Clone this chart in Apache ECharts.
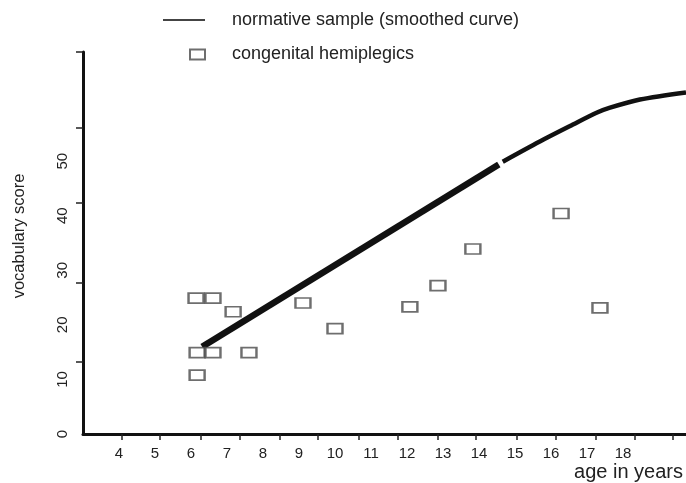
<!DOCTYPE html>
<html>
<head>
<meta charset="utf-8">
<script src="https://cdn.jsdelivr.net/npm/echarts@6/dist/echarts.min.js"></script>
<style>
html,body{margin:0;padding:0;background:#fff;}
#chart{width:686px;height:483px;}
</style>
</head>
<body>
<div id="chart"></div>
<script>
// ---- data ----
const hemiAge   = [6.14, 6.61, 7.17, 9.11, 10.0, 6.17, 6.61, 7.61, 6.17, 16.28, 13.83, 12.86, 12.08, 17.36];
const hemiScore = [24.9, 24.9, 22.4, 24.0, 19.3, 14.9, 14.9, 14.9, 10.8, 40.4, 33.9, 27.2, 23.3, 23.1];

const normAgeA   = [6.31, 14.55];
const normScoreA = [16.0, 49.4];
const normAgeB   = [14.66, 15.69, 16.61, 17.28, 17.64, 18.47, 19.75];
const normScoreB = [49.9, 53.6, 56.7, 58.9, 59.8, 61.3, 62.6];

const xLabelValues = [4, 5, 6, 7, 8, 9, 10, 11, 12, 13, 14, 15, 16, 17, 18];
const xTickValues  = [4.08, 5.14, 6.28, 7.36, 8.47, 9.53, 10.67, 11.75, 12.86, 13.92, 15.06, 16.14, 17.25, 18.33, 19.39];
const yLabelValues = [0, 10, 20, 30, 40, 50];
const yTickValues  = [13.2, 27.7, 42.4, 56.1, 70];

const normName = 'normative sample (smoothed curve)';
const hemiName = 'congenital hemiplegics';

const zip = (a, b) => a.map((v, i) => [v, b[i]]);

const FONT = '"Liberation Sans", Arial, sans-serif';
const chart = echarts.init(document.getElementById('chart'), null, {renderer: 'canvas'});

chart.setOption({
  animation: false,
  backgroundColor: '#fff',
  textStyle: {fontFamily: FONT},
  grid: {left: 83, right: 0, top: 52, bottom: 49},
  legend: [
    {
      id: 'legNorm',
      data: [{name: normName, icon: 'rect', itemStyle: {color: '#444', borderWidth: 0}}],
      left: 163, top: 11, padding: 0,
      itemWidth: 42, itemHeight: 2,
      selectedMode: false,
      textStyle: {fontSize: 18, color: '#222', fontFamily: FONT, padding: [0, 0, 0, 22]}
    },
    {
      id: 'legHemi',
      data: [{name: hemiName, icon: 'rect', itemStyle: {color: '#fff', borderColor: '#4a4a4a', borderWidth: 2}}],
      left: 189, top: 45.5, padding: 0,
      itemWidth: 15, itemHeight: 10,
      selectedMode: false,
      textStyle: {fontSize: 18, color: '#222', fontFamily: FONT, padding: [0, 0, 0, 22]}
    }
  ],
  xAxis: {
    type: 'value', min: 3, max: 19.75,
    axisLine: {show: true, onZero: false, lineStyle: {color: '#111', width: 3}},
    axisTick: {show: true, customValues: xTickValues, length: 6, lineStyle: {color: '#222', width: 1.5}},
    axisLabel: {customValues: xLabelValues, fontSize: 15, color: '#222', margin: 12, fontFamily: FONT},
    splitLine: {show: false}
  },
  yAxis: {
    type: 'value', min: 0, max: 70,
    axisLine: {show: true, onZero: false, lineStyle: {color: '#111', width: 3}},
    axisTick: {show: true, customValues: yTickValues, length: 7, lineStyle: {color: '#222', width: 1.5}},
    axisLabel: {customValues: yLabelValues, rotate: 90, fontSize: 15, color: '#222', margin: 13, fontFamily: FONT},
    splitLine: {show: false}
  },
  graphic: [
    {type: 'text', right: 3, top: 462, style: {text: 'age in years', fontSize: 20, fill: '#222', fontFamily: FONT}},
    {type: 'text', x: 19, y: 236, rotation: Math.PI / 2,
     style: {text: 'vocabulary score', fontSize: 16.5, fill: '#222', fontFamily: FONT, align: 'center', verticalAlign: 'middle'}}
  ],
  series: [
    {
      name: normName, type: 'line', data: zip(normAgeA, normScoreA),
      showSymbol: false, symbol: 'none', z: 3,
      lineStyle: {color: '#111', width: 6.5}, itemStyle: {color: '#111'}
    },
    {
      name: normName, type: 'line', data: zip(normAgeB, normScoreB),
      showSymbol: false, symbol: 'none', smooth: 0.3, z: 3,
      lineStyle: {color: '#111', width: 4.5}, itemStyle: {color: '#111'}
    },
    {
      name: hemiName, type: 'scatter', data: zip(hemiAge, hemiScore),
      symbol: 'rect', symbolSize: [15, 10], z: 4,
      itemStyle: {color: '#fff', borderColor: '#4a4a4a', borderWidth: 2}
    }
  ]
});
</script>
</body>
</html>
